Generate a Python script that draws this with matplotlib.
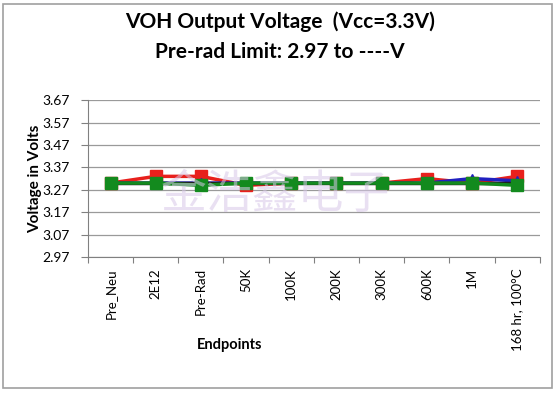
import matplotlib.pyplot as plt
from matplotlib.patches import Rectangle

# endpoints on the x axis
endpoints = ["Pre_Neu", "2E12", "Pre-Rad", "50K", "100K", "200K", "300K", "600K", "1M", "168 hr, 100°C"]
yticks = [2.97, 3.07, 3.17, 3.27, 3.37, 3.47, 3.57, 3.67]

red = [3.30, 3.33, 3.33, 3.29, 3.30, 3.30, 3.30, 3.32, 3.30, 3.33]
blue = [3.30, 3.30, 3.30, 3.30, 3.30, 3.30, 3.30, 3.30, 3.32, 3.31]
black = [3.30, 3.30, 3.30, 3.30, 3.30, 3.30, 3.30, 3.30, 3.30, 3.30]
green = [3.30, 3.30, 3.29, 3.30, 3.30, 3.30, 3.30, 3.30, 3.30, 3.29]

plt.rcParams['font.family'] = ['Lato', 'DejaVu Sans']

fig = plt.figure(figsize=(5.6, 3.96), dpi=100)
fig.patches.append(Rectangle((0.006, 0.02), 0.98, 0.97, transform=fig.transFigure,
                             fill=False, edgecolor="#a0a0a0", lw=1.2))
ax = fig.add_axes([0.157, 0.351, 0.807, 0.396])

x = list(range(len(endpoints)))
ax.plot(x, red, color="#e8201c", lw=2.5, marker="s", ms=8, zorder=3)
ax.plot(x, blue, color="#2020c0", lw=2.5, marker="^", ms=7, zorder=4)
ax.plot(x, black, color="#202020", lw=2.5, zorder=4)
ax.plot(x, green, color="#138a1e", lw=2.5, marker="s", ms=8, zorder=5)

ax.set_xlim(-0.5, len(endpoints) - 0.5)
ax.set_ylim(2.97, 3.67)
ax.set_yticks(yticks)
ax.set_yticklabels([f"{v:.2f}" for v in yticks], fontsize=10)
ax.grid(axis="y", color="#9a9a9a", lw=0.9)
ax.set_axisbelow(True)

ax.set_xticks([i + 0.5 for i in range(-1, len(endpoints))], minor=False)
ax.set_xticklabels([])
ax.set_xticks(x, minor=True)
ax.set_xticklabels(endpoints, minor=True, rotation=90, fontsize=9.5)
ax.tick_params(axis="x", which="minor", length=0, pad=8)
ax.tick_params(axis="x", which="major", length=4, color="#808080")
ax.tick_params(axis="y", length=5, pad=8, color="#808080")

for s in ["top", "right"]:
    ax.spines[s].set_visible(False)
ax.spines["left"].set_color("#808080")
ax.spines["bottom"].set_color("#808080")

ax.set_ylabel("Voltage in Volts", fontsize=11, fontweight="bold")
ax.yaxis.set_label_coords(-0.102, 0.5)
fig.text(230 / 560, 1 - 345 / 396, "Endpoints", ha="center", va="center",
         fontsize=10.5, fontweight="bold")
fig.text(0.5, 1 - 22 / 396, "VOH Output Voltage  (Vcc=3.3V)", ha="center", va="center",
         fontsize=15, fontweight="bold")
fig.text(0.5, 1 - 52 / 396, "Pre-rad Limit: 2.97 to ----V", ha="center", va="center",
         fontsize=15, fontweight="bold")

# watermark
fig.text(275 / 560, 1 - 195 / 396, "金浩鑫电子", ha="center", va="center",
         fontsize=33, color="#d8c8e8", alpha=0.55, family=["Noto Sans CJK SC", "DejaVu Sans"],
         zorder=10)

fig.savefig("out.png", dpi=100)
